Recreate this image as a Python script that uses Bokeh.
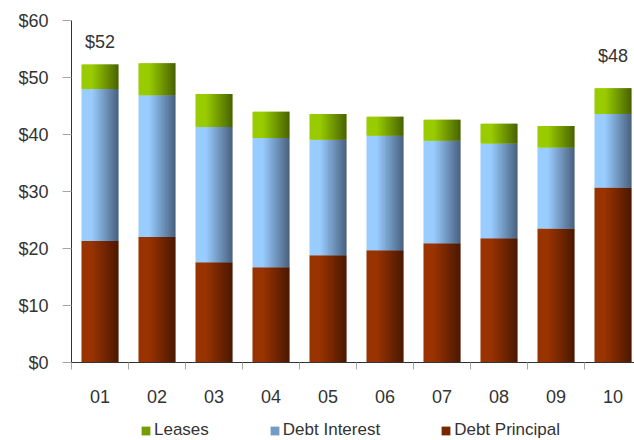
from bokeh.plotting import figure
from bokeh.layouts import column
from bokeh.models import (ColumnDataSource, FixedTicker, NumeralTickFormatter,
                          Range1d, Legend, LegendItem)
from bokeh.transform import dodge
from bokeh.core.properties import value
from bokeh.embed import file_html
from bokeh.resources import INLINE

# ---- data ----
years = ["01", "02", "03", "04", "05", "06", "07", "08", "09", "10"]
debt_principal = [21.3, 22.0, 17.6, 16.7, 18.8, 19.7, 20.9, 21.8, 23.5, 30.7]
debt_interest = [26.7, 24.9, 23.7, 22.7, 20.3, 20.1, 18.0, 16.6, 14.2, 12.9]
leases = [4.3, 5.6, 5.8, 4.6, 4.5, 3.3, 3.7, 3.5, 3.8, 4.5]
labelled_bars = ["01", "10"]
y_ticks = [0, 10, 20, 30, 40, 50, 60]
legend_order = ["Leases", "Debt Interest", "Debt Principal"]

FONT = "Liberation Sans"
TXT = "#333333"

xs = list(range(1, len(years) + 1))
p_top = debt_principal
i_top = [a + b for a, b in zip(debt_principal, debt_interest)]
l_top = [a + b for a, b in zip(i_top, leases)]
src = ColumnDataSource(dict(x=xs, zero=[0] * len(xs), p_top=p_top,
                            i_top=i_top, l_top=l_top))

p = figure(width=634, height=405, output_backend="svg", toolbar_location=None,
           x_range=Range1d(0.5, 10.377), y_range=Range1d(0, 60),
           min_border_left=71, min_border_right=0, min_border_top=20,
           min_border_bottom=41)
p.outline_line_color = None
p.xgrid.visible = False
p.ygrid.visible = False
p.background_fill_color = "white"
p.border_fill_color = "white"


def blend(c1, c2, t):
    r = [int(round(a + (b - a) * t)) for a, b in zip(c1, c2)]
    return "#%02x%02x%02x" % tuple(r)


series = [
    ("Debt Principal", "zero", "p_top", (0x99, 0x33, 0x00), (0x4a, 0x18, 0x00)),
    ("Debt Interest", "p_top", "i_top", (0x99, 0xcc, 0xff), (0x48, 0x60, 0x7e)),
    ("Leases", "i_top", "l_top", (0x99, 0xcc, 0x00), (0x48, 0x62, 0x00)),
]

BAR_W = 0.65
N = 20
sw = BAR_W / N
swatch = {}
for name, bot, top, light, dark in series:
    for k in range(N):
        s = (k + 0.5) / N
        t = max(0.0, (s - 0.28) / 0.72)
        col = blend(light, dark, t)
        w = sw * (1.8 if k < N - 1 else 1.0)
        left = -BAR_W / 2 + k * sw
        p.vbar(x=dodge("x", left + w / 2), width=w, bottom=bot, top=top,
               source=src, fill_color=col, line_color=None)
    swatch[name] = blend(light, dark, 0.45)

# total labels
lab_x = [years.index(c) + 1 for c in labelled_bars]
lab_y = [l_top[i - 1] for i in lab_x]
lab_t = ["$%d" % round(v) for v in lab_y]
p.text(x=lab_x, y=lab_y, text=lab_t, y_offset=[-22, -32],
       text_align="center", text_baseline="alphabetic",
       text_font=value(FONT), text_font_size="18px", text_color=TXT)

# y axis
ya = p.yaxis[0]
ya.ticker = FixedTicker(ticks=y_ticks)
ya.formatter = NumeralTickFormatter(format="$0")
ya.axis_line_color = "#333333"
ya.major_tick_line_color = "#a6a6a6"
ya.major_tick_out = 9
ya.major_tick_in = 0
ya.minor_tick_line_color = None
ya.major_label_standoff = 14
ya.major_label_text_font = FONT
ya.major_label_text_font_size = "18px"
ya.major_label_text_color = TXT

# x axis
xa = p.xaxis[0]
xa.ticker = FixedTicker(ticks=xs, minor_ticks=[v - 0.5 for v in xs] + [xs[-1] + 0.5])
xa.major_label_overrides = {x: c for x, c in zip(xs, years)}
xa.axis_line_color = "#333333"
xa.major_tick_line_color = None
xa.major_tick_out = 0
xa.major_tick_in = 0
xa.minor_tick_line_color = "#a6a6a6"
xa.minor_tick_out = 7
xa.minor_tick_in = 0
xa.major_label_standoff = 20
xa.major_label_text_font = FONT
xa.major_label_text_font_size = "18px"
xa.major_label_text_color = TXT

# legend strip (legend renderers hold one off-screen dummy row)
lg = figure(width=634, height=35, output_backend="svg", toolbar_location=None,
            x_range=Range1d(0, 1), y_range=Range1d(0, 1),
            min_border_left=0, min_border_right=0, min_border_top=0,
            min_border_bottom=0)
lg.axis.visible = False
lg.grid.visible = False
lg.outline_line_color = None
dummy = ColumnDataSource(dict(l=[5], r=[6], b=[5], t=[6]))
items = []
for n in legend_order:
    r = lg.quad(left="l", right="r", bottom="b", top="t", source=dummy,
                fill_color=swatch[n], line_color=None)
    items.append(LegendItem(label=n, renderers=[r]))
legend = Legend(items=items, orientation="horizontal", location=(69, 0),
                spacing=60, glyph_width=11, glyph_height=11, label_standoff=3,
                label_height=18, label_text_font=FONT,
                label_text_font_size="17px", label_text_color=TXT,
                border_line_color=None, background_fill_alpha=0,
                padding=0, margin=0)
lg.add_layout(legend, "center")

layout = column(p, lg, spacing=0)
open("out.html", "w").write(file_html(layout, INLINE))
